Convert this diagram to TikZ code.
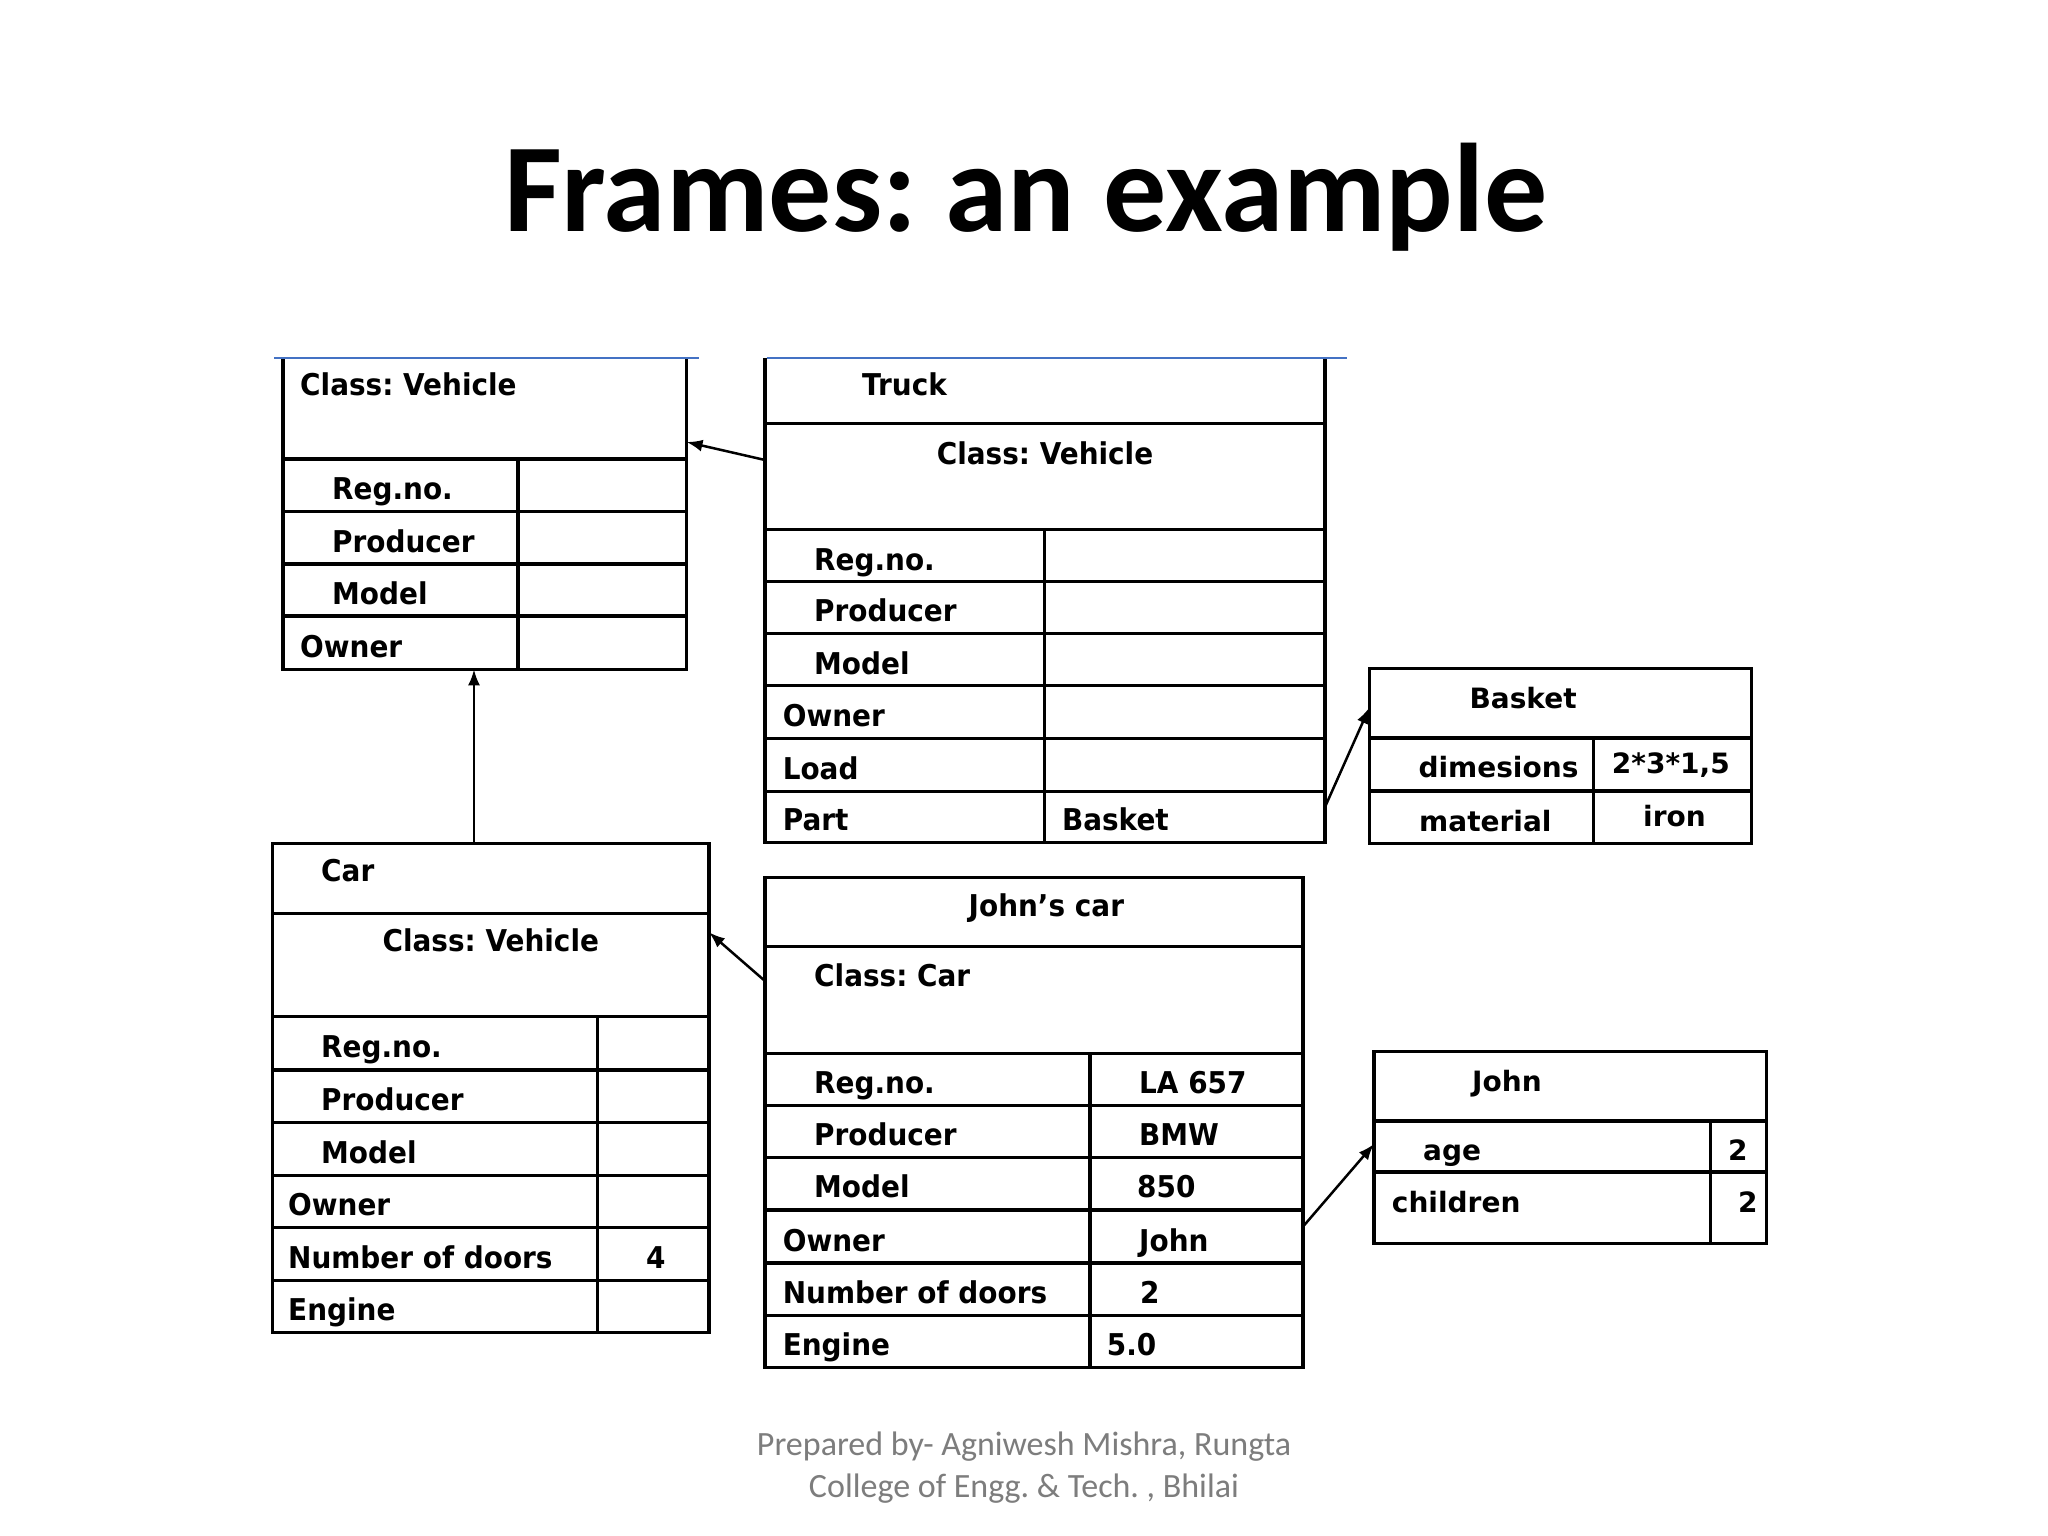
\documentclass[tikz,border=0pt]{standalone}
\usepackage{fontspec}
\setmainfont{DejaVu Sans}
\newfontfamily\boxfont[FakeStretch=0.93]{DejaVu Sans}
\newfontfamily\smlfont{DejaVu Sans}
\newfontfamily\ttlfont{Carlito}
\usetikzlibrary{arrows.meta,calc}
\definecolor{blueclr}{RGB}{68,114,196}
\definecolor{footgray}{RGB}{125,125,125}
\tikzset{
  frm/.style={draw=black, line width=3.5pt, inner sep=0pt, outer sep=0pt, anchor=north west},
  frmopen/.style={draw=none, inner sep=0pt, outer sep=0pt, anchor=north west},
  sep/.style={line width=3.5pt},
  lbl/.style={anchor=base west, inner sep=0pt, font=\boxfont\bfseries\fontsize{30}{36}\selectfont},
  lblc/.style={anchor=base, inner sep=0pt, font=\boxfont\bfseries\fontsize{30}{36}\selectfont},
  sml/.style={anchor=base west, inner sep=0pt, font=\smlfont\bfseries\fontsize{28}{34}\selectfont},
  arr/.style={-{Latex[length=16pt,width=12pt]}, line width=2.5pt},
  blueline/.style={draw=blueclr, line width=2.5pt},
  foot/.style={anchor=base, inner sep=0pt, text=footgray, font=\ttlfont\fontsize{34}{40}\selectfont}
}
\begin{document}
\frenchspacing
\begin{tikzpicture}[x=1pt,y=-1pt]
\useasboundingbox (0,0) rectangle (2048,1536);
\fill[white] (0,0) rectangle (2048,1536);

% title
\node[anchor=base, inner sep=0pt, font=\ttlfont\bfseries\fontsize{126}{144}\selectfont] (title) at (1026,231) {Frames: an example};

% ---------------- Vehicle ----------------
\node[frmopen, minimum width=403.5pt, minimum height=311.3pt] (veh) at (283,358) {};
\draw[sep] (veh.north west) -- (veh.south west) -- (veh.south east) -- (veh.north east);
\draw[blueline] (274,358) -- (699,358);
\draw[sep] (283,459) -- (686.5,459);
\draw[sep] (283,511.7) -- (686.5,511.7);
\draw[sep] (283,564) -- (686.5,564);
\draw[sep] (283,616) -- (686.5,616);
\draw[sep] (518.2,459) -- (518.2,669.3);
\node[lbl] (v0) at (300,395) {Class: Vehicle};
\node[lbl] (v1) at (332,499.7) {Reg.no.};
\node[lbl] (v2) at (332,552) {Producer};
\node[lbl] (v3) at (332,604) {Model};
\node[lbl] (v4) at (300,657) {Owner};

% ---------------- Truck ----------------
\node[frmopen, minimum width=560pt, minimum height=484.3pt] (truck) at (765,358) {};
\draw[sep] (truck.north west) -- (truck.south west) -- (truck.south east) -- (truck.north east);
\draw[blueline] (766.5,358) -- (1347.3,358);
\foreach \yy in {423.3,529.3,581.7,633.3,685.7,738.3,791.7}{
  \draw[sep] (765,\yy) -- (1325,\yy);
}
\draw[sep] (1044.3,529.3) -- (1044.3,842.3);
\node[lbl] (t0) at (862,395) {Truck};
\node[lblc] (t1) at (1045,464) {Class: Vehicle};
\node[lbl] (t2) at (814,570) {Reg.no.};
\node[lbl] (t3) at (814,621.5) {Producer};
\node[lbl] (t4) at (814,674) {Model};
\node[lbl] (t5) at (782.6,726.5) {Owner};
\node[lbl] (t6) at (782.6,779.7) {Load};
\node[lbl] (t7) at (782.6,830.3) {Part};
\node[lbl] (t8) at (1061.8,830.3) {Basket};

% ---------------- Basket ----------------
\node[frm, minimum width=382.4pt, minimum height=174.9pt] (basket) at (1369.3,668.6) {};
\draw[sep] (1369.3,738.2) -- (1751.7,738.2);
\draw[sep] (1369.3,791) -- (1751.7,791);
\draw[sep] (1593.3,738.2) -- (1593.3,843.5);
\node[sml] (b0) at (1469.3,708.4) {Basket};
\node[sml] (b1) at (1418.3,777) {dimesions};
\node[sml] (b2) at (1611.7,773) {2*3*1,5};
\node[sml] (b3) at (1419,831.6) {material};
\node[sml] (b4) at (1643,826) {iron};

% ---------------- Car ----------------
\node[frm, minimum width=436.4pt, minimum height=489.2pt] (car) at (272.6,843.3) {};
\foreach \yy in {913.3,1016.6,1069.8,1122.5,1175.3,1227.7,1280.5}{
  \draw[sep] (272.6,\yy) -- (709,\yy);
}
\draw[sep] (597.4,1016.6) -- (597.4,1332.5);
\node[lbl] (c0) at (321,881.3) {Car};
\node[lblc] (c1) at (490.8,951.3) {Class: Vehicle};
\node[lbl] (c2) at (321,1057.8) {Reg.no.};
\node[lbl] (c3) at (321,1110.5) {Producer};
\node[lbl] (c4) at (321,1163.3) {Model};
\node[lbl] (c5) at (288,1215.7) {Owner};
\node[lbl] (c6) at (288,1268.5) {Number of doors};
\node[lbl] (c7) at (288,1320.5) {Engine};
\node[lbl] (c8) at (646,1268.5) {4};

% ---------------- John's car ----------------
\node[frm, minimum width=538pt, minimum height=490pt] (jc) at (765,877.7) {};
\foreach \yy in {946.7,1053.3,1105.7,1157.7,1209.8,1263.2,1315.6}{
  \draw[sep] (765,\yy) -- (1303,\yy);
}
\draw[sep] (1089.9,1053.3) -- (1089.9,1367.7);
\node[lbl] (j0) at (968.5,916.9) {John’s car};
\node[lbl] (j1) at (814,986.9) {Class: Car};
\node[lbl] (j2) at (814,1093.7) {Reg.no.};
\node[lbl] (j3) at (814,1145.7) {Producer};
\node[lbl] (j4) at (814,1197.8) {Model};
\node[lbl] (j5) at (782.6,1251.2) {Owner};
\node[lbl] (j6) at (782.6,1303.6) {Number of doors};
\node[lbl] (j7) at (782.6,1355.7) {Engine};
\node[lbl] (j8) at (1139,1093.7) {LA 657};
\node[lbl] (j9) at (1139,1145.7) {BMW};
\node[lbl] (j10) at (1137,1197.8) {850};
\node[lbl] (j11) at (1139,1251.2) {John};
\node[lbl] (j12) at (1140,1303.6) {2};
\node[lbl] (j13) at (1106.7,1355.7) {5.0};

% ---------------- John ----------------
\node[frm, minimum width=392.7pt, minimum height=191.9pt] (john) at (1374,1051.4) {};
\draw[sep] (1374,1121) -- (1766.7,1121);
\draw[sep] (1374,1171.8) -- (1766.7,1171.8);
\draw[sep] (1710.7,1121) -- (1710.7,1243.3);
\node[sml] (h0) at (1472,1091) {John};
\node[sml] (h1) at (1423,1160) {age};
\node[sml] (h2) at (1391.7,1212.3) {children};
\node[sml] (h3) at (1728,1160.7) {2};
\node[sml] (h4) at (1738,1212.3) {2};

% ---------------- connectors ----------------
\coordinate (vb) at ([xshift=191pt]veh.south west);
\draw[arr] ([yshift=-102pt]truck.north west) -- ([yshift=-84pt]veh.north east);
\draw[arr] (car.north -| vb) -- (vb);
\draw[arr] ([yshift=-103.3pt]jc.north west) -- ([yshift=-89pt]car.north east);
\draw[arr] ([yshift=35.3pt]truck.south east) -- ([yshift=-39pt]basket.north west);
\draw[arr] ([yshift=-348.9pt]jc.north east) -- ([yshift=-92.6pt]john.north west);

% footer
\node[foot] (f1) at (1024,1455.7) {Prepared by- Agniwesh Mishra, Rungta};
\node[foot] (f2) at (1024,1497.3) {College of Engg. \& Tech. , Bhilai};
\end{tikzpicture}
\end{document}
